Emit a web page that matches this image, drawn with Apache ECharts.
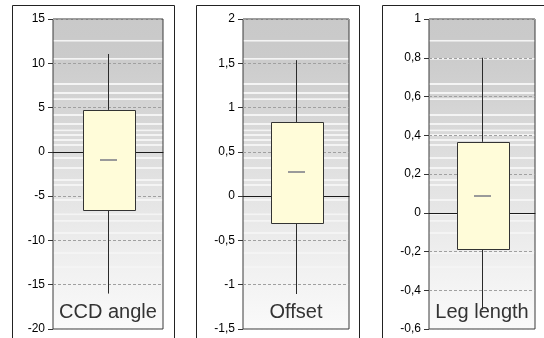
<!DOCTYPE html>
<html><head><meta charset="utf-8">
<script src="https://cdn.jsdelivr.net/npm/echarts@6/dist/echarts.min.js"></script>
<style>html,body{margin:0;padding:0;background:#fff}#c{width:544px;height:338px}</style>
</head><body><div id="c"></div>
<script>
const panelNames = ['CCD angle', 'Offset', 'Leg length'];
const whiskerLow = [-16.0, -1.105, -0.5];
const q1 = [-6.55, -0.305, -0.186];
const median = [-0.9, 0.27, 0.088];
const q3 = [4.74, 0.835, 0.366];
const whiskerHigh = [11.05, 1.535, 0.80];
const yMin = [-20, -1.5, -0.6];
const yMax = [15, 2, 1];
const yStep = [5, 0.5, 0.2];

const gridLeft = [53, 243, 429];
const gridWidth = [110, 106, 106];
const frames = [[12, 162], [196, 163], [382, 170]];

// background shading: gray anchors + thin light stripes (decorative)
const shadeAnchors = [[0, 201], [0.12, 203], [0.45, 222], [0.75, 238], [1, 250]];
const stripeAt = [0.071, 0.129, 0.21, 0.24, 0.26, 0.31, 0.34, 0.36, 0.374, 0.39, 0.406, 0.448, 0.48, 0.52, 0.535, 0.584, 0.63, 0.65, 0.69, 0.755, 0.80];
function shadeAt(f) {
  for (let k = 1; k < shadeAnchors.length; k++) {
    const [f0, g0] = shadeAnchors[k - 1], [f1, g1] = shadeAnchors[k];
    if (f <= f1) { const g = Math.round(g0 + (g1 - g0) * (f - f0) / (f1 - f0)); return 'rgb(' + g + ',' + g + ',' + g + ')'; }
  }
  return 'rgb(250,250,250)';
}
const stops = [{offset: 0, color: shadeAt(0)}];
stripeAt.forEach(f => {
  stops.push({offset: f - 0.0035, color: shadeAt(f - 0.0035)});
  stops.push({offset: f - 0.0025, color: '#f4f4f4'});
  stops.push({offset: f + 0.0025, color: '#f4f4f4'});
  stops.push({offset: f + 0.0035, color: shadeAt(f + 0.0035)});
});
stops.push({offset: 1, color: shadeAt(1)});

const chart = echarts.init(document.getElementById('c'), null, {renderer: 'canvas'});

const grids = [], xAxes = [], yAxes = [], series = [], graphics = [];
panelNames.forEach((name, i) => {
  grids.push({left: gridLeft[i], width: gridWidth[i], top: 19, height: 310, show: true,
    backgroundColor: new echarts.graphic.LinearGradient(0, 0, 0, 1, stops),
    borderColor: '#3a3a3a', borderWidth: 1, z: 0});
  xAxes.push({type: 'category', gridIndex: i, data: [name],
    axisLine: {show: true, onZero: true, lineStyle: {color: '#1a1a1a', width: 1}},
    axisTick: {show: false}, axisLabel: {show: false}, splitLine: {show: false}});
  yAxes.push({type: 'value', gridIndex: i, min: yMin[i], max: yMax[i], interval: yStep[i],
    axisLine: {show: false},
    axisTick: {show: true, length: 5, lineStyle: {color: '#333'}},
    axisLabel: {margin: 8, color: '#000', fontSize: 12, fontFamily: 'Liberation Sans, Arial, sans-serif',
      formatter: v => String(+v.toFixed(2)).replace('.', ',')},
    splitLine: {show: true, lineStyle: {color: '#a0a0a0', type: [3, 2], width: 1}}});
  series.push({type: 'custom', xAxisIndex: i, yAxisIndex: i, z: 5,
    data: [[0, whiskerLow[i], q1[i], median[i], q3[i], whiskerHigh[i]]],
    renderItem: (params, api) => {
      const x = api.value(0);
      const pLow = api.coord([x, api.value(1)]);
      const pQ1 = api.coord([x, api.value(2)]);
      const pMed = api.coord([x, api.value(3)]);
      const pQ3 = api.coord([x, api.value(4)]);
      const pHigh = api.coord([x, api.value(5)]);
      const cx = Math.round(pQ1[0]) + 0.5;
      const bw = 52;
      const l = Math.round(cx - bw / 2) + 0.5;
      return {type: 'group', children: [
        {type: 'line', shape: {x1: cx, y1: pQ3[1], x2: cx, y2: pHigh[1]}, style: {stroke: '#2a2a2a', lineWidth: 1}},
        {type: 'line', shape: {x1: cx, y1: pQ1[1], x2: cx, y2: pLow[1]}, style: {stroke: '#2a2a2a', lineWidth: 1}},
        {type: 'rect', shape: {x: l, y: Math.round(pQ3[1]) + 0.5, width: bw, height: Math.round(pQ1[1] - pQ3[1])},
          style: {fill: '#fffcd9', stroke: '#333', lineWidth: 1}},
        {type: 'line', shape: {x1: cx - 8.5, y1: Math.round(pMed[1]), x2: cx + 8.5, y2: Math.round(pMed[1])},
          style: {stroke: '#9a9a9a', lineWidth: 2}}
      ]};
    }});
  graphics.push({type: 'rect', shape: {x: frames[i][0] + 0.5, y: 5.5, width: frames[i][1], height: 360},
    style: {fill: null, stroke: '#222', lineWidth: 1}, z: -1, silent: true});
  graphics.push({type: 'text', x: gridLeft[i] + gridWidth[i] / 2, y: 322, z: 100,
    style: {text: name, fill: '#333', font: '20px "Liberation Sans", Arial, sans-serif',
      textAlign: 'center', textVerticalAlign: 'bottom'}});
});

chart.setOption({animation: false, grid: grids, xAxis: xAxes, yAxis: yAxes, series, graphic: graphics});
</script></body></html>
